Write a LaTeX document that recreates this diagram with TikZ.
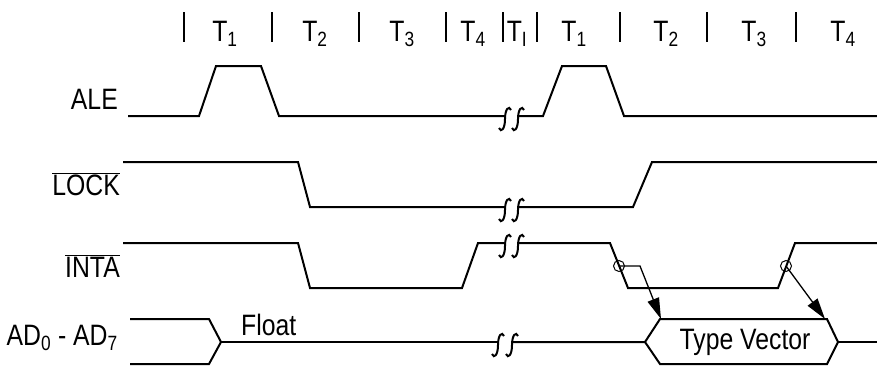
\documentclass[tikz,border=0pt]{standalone}
\usepackage{fontspec}
\setmainfont{Liberation Sans}[FakeStretch=0.84]
\usetikzlibrary{arrows.meta}

% break mark on a waveform, #1 = x, #2 = line level
\newcommand{\squig}[2]{%
	\draw[sig] (#1+6,#2-6) .. controls (#1+4,#2-11) and (#1,#2-7) .. (#1,#2+3)
		.. controls (#1,#2+13) and (#1-4,#2+17) .. (#1-6,#2+12);
}

\begin{document}
\begin{tikzpicture}[x=1pt,y=-1pt,font=\fontsize{29.5}{34}\selectfont]
	\tikzstyle{sig}=[line width=2pt]
	\tikzstyle{tick}=[line width=1.4pt]
	\tikzstyle{lbl}=[anchor=base east,inner sep=0pt]
	\tikzstyle{phase}=[anchor=base,inner sep=0pt]
	\tikzstyle{ring}=[draw,shape=circle,minimum size=11pt,inner sep=0pt,line width=1pt]
	\tikzstyle{cause}=[line width=1.3pt,-{Triangle[length=21pt,width=12pt]}]
	
	\useasboundingbox (0,0) rectangle (877,365);
	
	% clock states
	\draw[tick] (184,12) -- (184,42);
	\draw[tick] (272,12) -- (272,42);
	\draw[tick] (359,12) -- (359,42);
	\draw[tick] (446,12) -- (446,42);
	\draw[tick] (503,12) -- (503,42);
	\draw[tick] (537,12) -- (537,42);
	\draw[tick] (620,12) -- (620,42);
	\draw[tick] (707,12) -- (707,42);
	\draw[tick] (796,12) -- (796,42);
	
	\node[phase](p1) at (225,41){T\textsubscript{1}};
	\node[phase](p2) at (315,41){T\textsubscript{2}};
	\node[phase](p3) at (402,41){T\textsubscript{3}};
	\node[phase](p4) at (473,41){T\textsubscript{4}};
	\node[phase](pi) at (517,41){T\textsubscript{I}};
	\node[phase](q1) at (574,41){T\textsubscript{1}};
	\node[phase](q2) at (666,41){T\textsubscript{2}};
	\node[phase](q3) at (754,41){T\textsubscript{3}};
	\node[phase](q4) at (843,41){T\textsubscript{4}};
	
	% signal names
	\node[lbl](ale) at (118,109){ALE};
	\node[lbl](lock) at (120,195){$\overline{\mbox{LOCK}}$};
	\node[lbl](inta) at (120,277){$\overline{\mbox{INTA}}$};
	\node[lbl](ad) at (118,345){AD\textsubscript{0} - AD\textsubscript{7}};
	
	% ALE
	\draw[sig] (128,116) -- (199,116) -- (216,66) -- (261,66) -- (279,116) -- (505,116);
	\squig{505}{116}
	\squig{518}{116}
	\draw[sig] (518,116) -- (543,116) -- (562,66) -- (606,66) -- (624,116) -- (877,116);
	
	% LOCK
	\draw[sig] (123,162) -- (298,162) -- (310,207) -- (505,207);
	\squig{505}{207}
	\squig{518}{207}
	\draw[sig] (518,207) -- (633,207) -- (652,162) -- (877,162);
	
	% INTA
	\draw[sig] (123,243) -- (298,243) -- (310,288) -- (462,288) -- (478,243) -- (505,243);
	\squig{505}{243}
	\squig{518}{243}
	\draw[sig] (518,243) -- (610,243) -- (628,288) -- (778,288) -- (795,243) -- (877,243);
	
	% AD0 - AD7
	\draw[sig] (130,319) -- (209,319) -- (221,342) -- (209,364) -- (130,364);
	\draw[sig] (221,342) -- (498,342);
	\squig{498}{342}
	\squig{512}{342}
	\draw[sig] (512,342) -- (645,342) -- (660,319) -- (827,319) -- (838,342) -- (827,364) -- (660,364) -- (645,342);
	\draw[sig] (838,342) -- (877,342);
	
	\node[anchor=base west,inner sep=0pt](flt) at (241,335){Float};
	\node(tv) at (745,342){Type Vector};
	
	% INTA edges to vector
	\node[ring](e1) at (619,266){};
	\node[ring](e2) at (786,266){};
	\coordinate (k1) at (640,266);
	\coordinate (v1) at (661,319);
	\coordinate (v2) at (825,319);
	\draw[cause] (e1.center) -- (k1) -- (v1);
	\draw[cause] (e2.center) -- (v2);
	
\end{tikzpicture}
\end{document}
